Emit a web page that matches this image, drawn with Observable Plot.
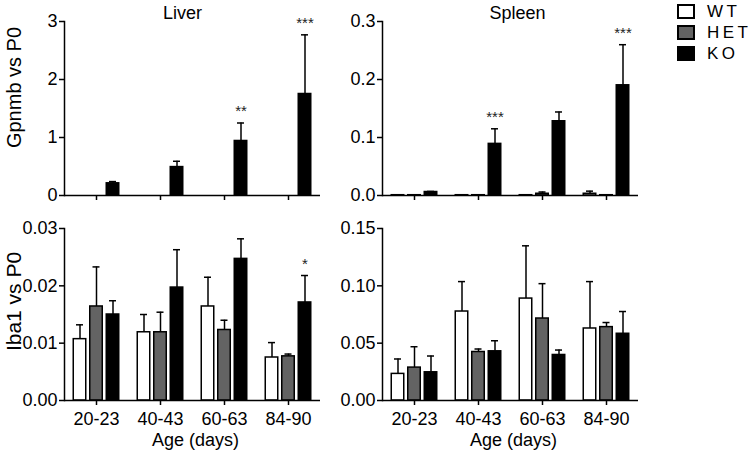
<!DOCTYPE html>
<html>
<head>
<meta charset="utf-8">
<script src="https://cdn.jsdelivr.net/npm/d3@7"></script>
<script src="https://cdn.jsdelivr.net/npm/@observablehq/plot@0.6"></script>
<style>
  html, body { margin: 0; padding: 0; background: #fff; }
  #chart { position: relative; width: 753px; height: 454px; overflow: hidden; font-family: Arial, "Liberation Sans", sans-serif; }
  #chart svg { position: absolute; overflow: visible; }
  .legend { position: absolute; left: 677px; top: 1px; font-size: 17px; color: #000; }
  .legend .row { display: flex; align-items: center; height: 21px; }
  .legend .sw { width: 14px; height: 11px; border: 2px solid #000; margin-right: 12px; box-sizing: content-box; }
  .legend .lab { letter-spacing: 3.5px; }
</style>
</head>
<body>
<div id="chart"></div>
<script>
// ---------- data ----------
const ages = ["20-23", "40-43", "60-63", "84-90"];
const genotypes = ["WT", "HET", "KO"];
const genotypeFill = ["#ffffff", "#636363", "#000000"];

// Liver, Gpnmb vs P0
const liverGpnmbWT = [0, 0, 0, 0];
const liverGpnmbWTErr = [0, 0, 0, 0];
const liverGpnmbHET = [0, 0, 0, 0];
const liverGpnmbHETErr = [0, 0, 0, 0];
const liverGpnmbKO = [0.21, 0.49, 0.94, 1.75];
const liverGpnmbKOErr = [0.03, 0.10, 0.31, 1.02];
const liverGpnmbSig = ["", "", "**", "***"];

// Spleen, Gpnmb vs P0
const spleenGpnmbWT = [0.0005, 0.0005, 0.0005, 0.003];
const spleenGpnmbWTErr = [0, 0, 0, 0.0045];
const spleenGpnmbHET = [0.0005, 0.0005, 0.003, 0.0005];
const spleenGpnmbHETErr = [0, 0, 0.003, 0];
const spleenGpnmbKO = [0.006, 0.089, 0.128, 0.19];
const spleenGpnmbKOErr = [0.001, 0.026, 0.016, 0.07];
const spleenGpnmbSig = ["", "***", "", "***"];

// Liver, Iba1 vs P0
const liverIba1WT = [0.0107, 0.0119, 0.0164, 0.0075];
const liverIba1WTErr = [0.0025, 0.0031, 0.0051, 0.0026];
const liverIba1HET = [0.0164, 0.0119, 0.0123, 0.0077];
const liverIba1HETErr = [0.0069, 0.0035, 0.0017, 0.0004];
const liverIba1KO = [0.0150, 0.0197, 0.0247, 0.0171];
const liverIba1KOErr = [0.0024, 0.0066, 0.0035, 0.0047];
const liverIba1Sig = ["", "", "", "*"];

// Spleen, Iba1 vs P0
const spleenIba1WT = [0.0232, 0.0776, 0.0889, 0.0628];
const spleenIba1WTErr = [0.0130, 0.0261, 0.0460, 0.0409];
const spleenIba1HET = [0.0287, 0.0423, 0.0715, 0.0640];
const spleenIba1HETErr = [0.0182, 0.0026, 0.0304, 0.0040];
const spleenIba1KO = [0.0246, 0.0429, 0.0397, 0.0582];
const spleenIba1KOErr = [0.0142, 0.0092, 0.0043, 0.0194];
const spleenIba1Sig = ["", "", "", ""];

const liverGpnmbTicks = [0, 1, 2, 3];
const spleenGpnmbTicks = [0, 0.1, 0.2, 0.3];
const liverIba1Ticks = [0, 0.01, 0.02, 0.03];
const spleenIba1Ticks = [0, 0.05, 0.10, 0.15];

// ---------- drawing ----------
const FONT = 'Arial, "Liberation Sans", sans-serif';
const BAND = 64;          // band step in px (padding 0)
const BAR_W = 12.5;
const CAP_W = 7;
const OFFSETS = [-16.5, 0, 16.5];

function makeRows(series, errs) {
  return genotypes.map((g, gi) => ages.map((age, i) => ({
    age, genotype: g, value: series[gi][i], err: errs[gi][i]
  })));
}

function panel(opts) {
  const {series, errs, sig, ticks, fmt, bottom, title, titleDx, ylabel, ylabelDy, ylabelSize} = opts;
  const rowsByG = makeRows(series, errs);
  const marks = [];
  marks.push(Plot.axisY({ticks, tickFormat: fmt, tickSize: 5, tickPadding: 2, label: null, fontSize: 18, strokeWidth: 1.5}));
  marks.push(Plot.axisX({tickSize: 5, tickPadding: 7, tickFormat: bottom ? (d) => d : () => "", label: null, fontSize: 18, strokeWidth: 1.5}));
  rowsByG.forEach((rows, gi) => {
    const dx = OFFSETS[gi];
    const inset = (BAND - BAR_W) / 2;
    marks.push(Plot.ruleX(rows.filter(d => d.err > 0), {x: "age", y1: d => d.value, y2: d => d.value + d.err, dx, stroke: "#000", strokeWidth: 1.5}));
    marks.push(Plot.tickY(rows.filter(d => d.err > 0), {x: "age", y: d => d.value + d.err, dx, stroke: "#000", strokeWidth: 1.5, insetLeft: (BAND - CAP_W) / 2, insetRight: (BAND - CAP_W) / 2}));
    marks.push(Plot.barY(rows.filter(d => d.value > 0), {x: "age", y: "value", dx, fill: genotypeFill[gi], stroke: "#000", strokeWidth: 1.5, insetLeft: inset, insetRight: inset}));
  });
  // significance stars above KO error bars
  const koRows = rowsByG[2].map((d, i) => ({...d, sig: sig[i]})).filter(d => d.sig);
  marks.push(Plot.text(koRows, {x: "age", y: d => d.value + d.err, text: "sig", dx: OFFSETS[2], dy: -7, lineAnchor: "bottom", fontSize: 15, fill: "#222"}));
  marks.push(Plot.ruleY([0], {stroke: "#000", strokeWidth: 1.5}));
  marks.push(Plot.frame({anchor: "left", stroke: "#000", strokeWidth: 1.5}));
  if (title) marks.push(Plot.text([title], {frameAnchor: "top", lineAnchor: "bottom", dy: -3, dx: titleDx, fontSize: 18}));
  if (ylabel) marks.push(Plot.text([ylabel], {frameAnchor: "left", textAnchor: "middle", lineAnchor: "middle", rotate: -90, dx: -50, dy: ylabelDy, fontSize: ylabelSize}));
  if (bottom) marks.push(Plot.text(["Age (days)"], {frameAnchor: "bottom", lineAnchor: "bottom", dy: 45, dx: 3, fontSize: 18}));
  return Plot.plot({
    width: 330,
    height: bottom ? 249 : 205,
    marginLeft: 64,
    marginRight: 10,
    marginTop: bottom ? 23 : 21,
    marginBottom: bottom ? 54 : 10,
    style: {fontFamily: FONT, fontSize: "18px", color: "#000", background: "transparent", overflow: "visible"},
    x: {type: "band", domain: ages, padding: 0},
    y: {domain: [ticks[0], ticks[ticks.length - 1]]},
    marks
  });
}

const chart = document.getElementById("chart");
function place(svg, left, top) {
  svg.style.left = left + "px";
  svg.style.top = top + "px";
  chart.appendChild(svg);
}

place(panel({
  series: [liverGpnmbWT, liverGpnmbHET, liverGpnmbKO],
  errs: [liverGpnmbWTErr, liverGpnmbHETErr, liverGpnmbKOErr],
  sig: liverGpnmbSig, ticks: liverGpnmbTicks, fmt: d3.format("d"),
  bottom: false, title: "Liver", titleDx: -10, ylabel: "Gpnmb vs P0", ylabelDy: -21, ylabelSize: 20
}), 0, 0);

place(panel({
  series: [spleenGpnmbWT, spleenGpnmbHET, spleenGpnmbKO],
  errs: [spleenGpnmbWTErr, spleenGpnmbHETErr, spleenGpnmbKOErr],
  sig: spleenGpnmbSig, ticks: spleenGpnmbTicks, fmt: d3.format(".1f"),
  bottom: false, title: "Spleen", titleDx: 7
}), 318, 0);

place(panel({
  series: [liverIba1WT, liverIba1HET, liverIba1KO],
  errs: [liverIba1WTErr, liverIba1HETErr, liverIba1KOErr],
  sig: liverIba1Sig, ticks: liverIba1Ticks, fmt: d3.format(".2f"),
  bottom: true, ylabel: "Iba1 vs P0", ylabelDy: -13, ylabelSize: 21
}), 0, 205);

place(panel({
  series: [spleenIba1WT, spleenIba1HET, spleenIba1KO],
  errs: [spleenIba1WTErr, spleenIba1HETErr, spleenIba1KOErr],
  sig: spleenIba1Sig, ticks: spleenIba1Ticks, fmt: d3.format(".2f"),
  bottom: true
}), 318, 205);

// legend
const legend = document.createElement("div");
legend.className = "legend";
genotypes.forEach((g, i) => {
  const row = document.createElement("div");
  row.className = "row";
  const sw = document.createElement("span");
  sw.className = "sw";
  sw.style.background = genotypeFill[i];
  const lab = document.createElement("span");
  lab.className = "lab";
  lab.textContent = g;
  row.appendChild(sw);
  row.appendChild(lab);
  legend.appendChild(row);
});
chart.appendChild(legend);
</script>
</body>
</html>
